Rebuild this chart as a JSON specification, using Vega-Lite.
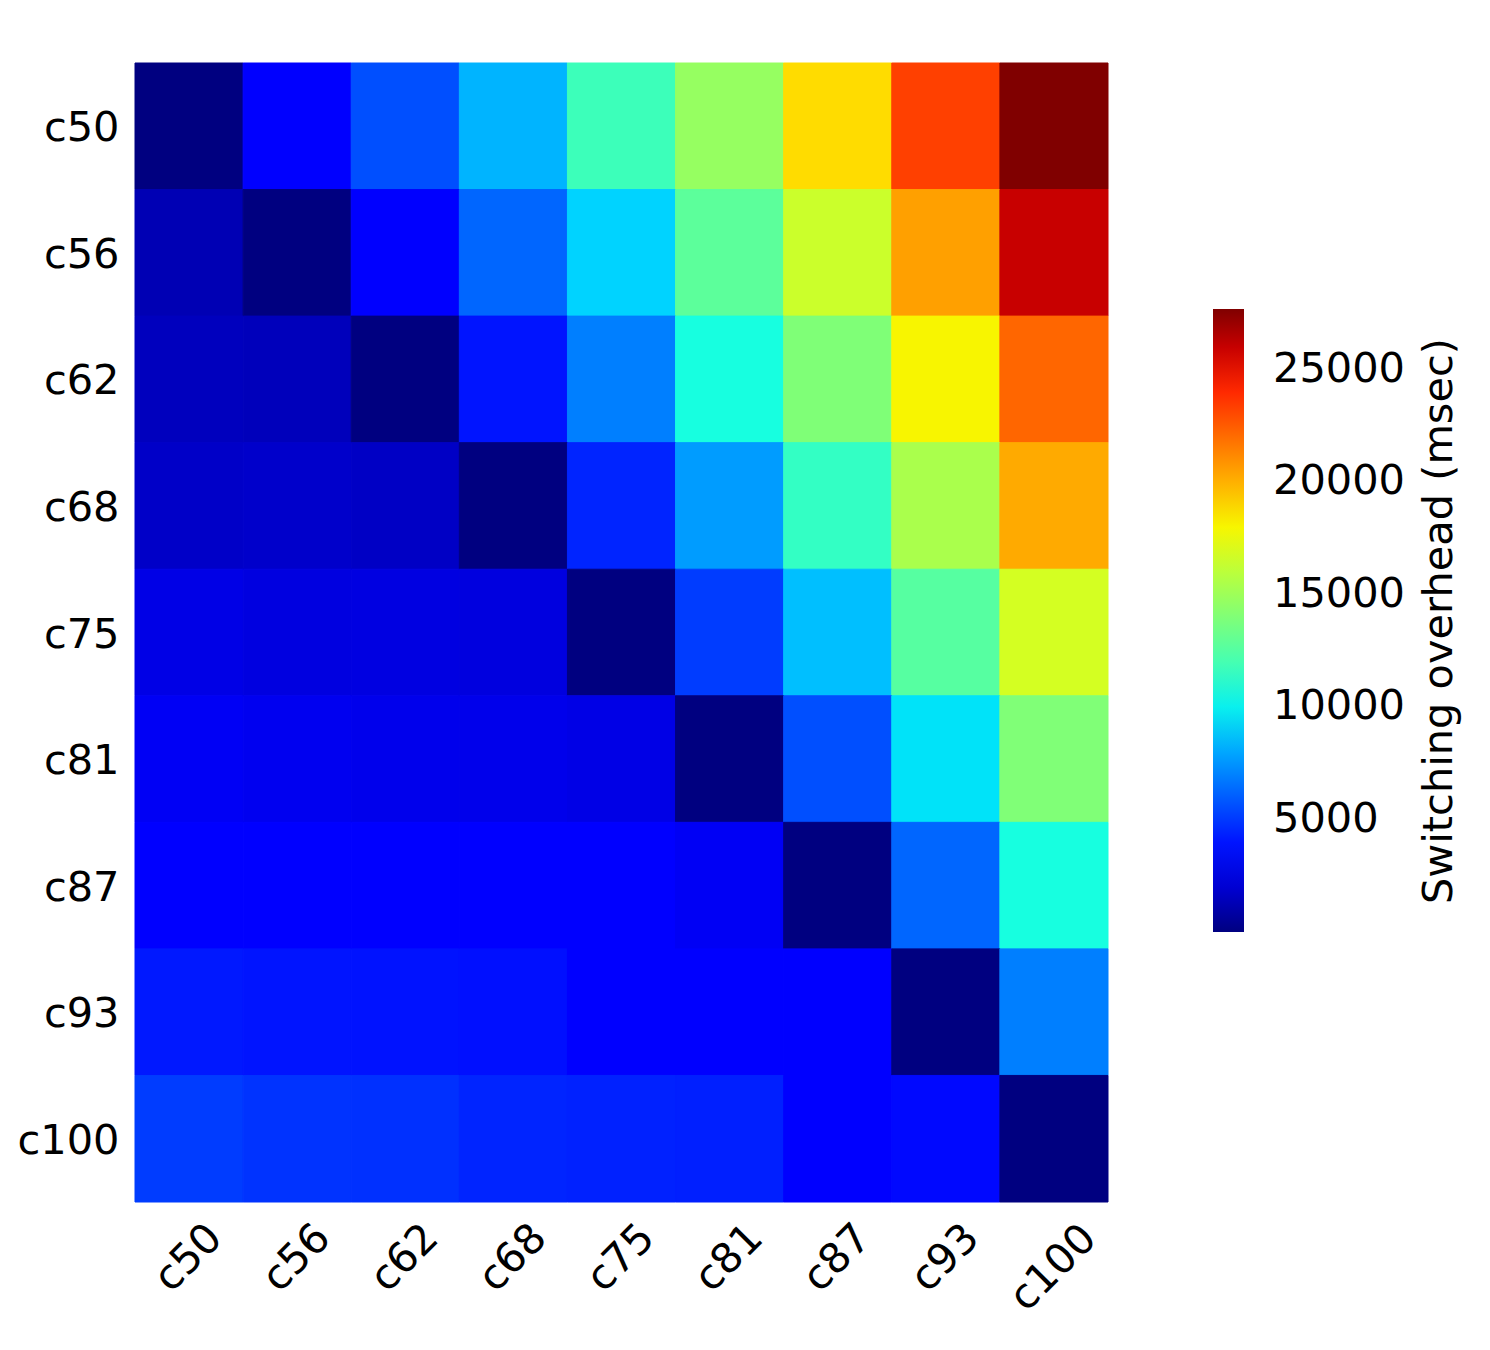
{
  "$schema": "https://vega.github.io/schema/vega-lite/v6.json",
  "autosize": {"type": "none"},
  "padding": {"left": 135, "top": 63, "right": 382, "bottom": 148},
  "width": 973,
  "height": 1139,
  "background": "white",
  "config": {
    "view": {"stroke": null},
    "font": "DejaVu Sans"
  },
  "data": {
    "values": [
      {"row": "c50", "col": "c50", "v": 0}, {"row": "c50", "col": "c56", "v": 3300}, {"row": "c50", "col": "c62", "v": 5610}, {"row": "c50", "col": "c68", "v": 8350}, {"row": "c50", "col": "c75", "v": 11720}, {"row": "c50", "col": "c81", "v": 14740}, {"row": "c50", "col": "c87", "v": 18750}, {"row": "c50", "col": "c93", "v": 23340}, {"row": "c50", "col": "c100", "v": 27700},
      {"row": "c56", "col": "c50", "v": 1250}, {"row": "c56", "col": "c56", "v": 0}, {"row": "c56", "col": "c62", "v": 3400}, {"row": "c56", "col": "c68", "v": 6230}, {"row": "c56", "col": "c75", "v": 9210}, {"row": "c56", "col": "c81", "v": 12790}, {"row": "c56", "col": "c87", "v": 16560}, {"row": "c56", "col": "c93", "v": 20520}, {"row": "c56", "col": "c100", "v": 25970},
      {"row": "c62", "col": "c50", "v": 1480}, {"row": "c62", "col": "c56", "v": 1420}, {"row": "c62", "col": "c62", "v": 0}, {"row": "c62", "col": "c68", "v": 4000}, {"row": "c62", "col": "c75", "v": 6925}, {"row": "c62", "col": "c81", "v": 10440}, {"row": "c62", "col": "c87", "v": 13990}, {"row": "c62", "col": "c93", "v": 18030}, {"row": "c62", "col": "c100", "v": 22220},
      {"row": "c68", "col": "c50", "v": 1730}, {"row": "c68", "col": "c56", "v": 1800}, {"row": "c68", "col": "c62", "v": 1650}, {"row": "c68", "col": "c68", "v": 0}, {"row": "c68", "col": "c75", "v": 4430}, {"row": "c68", "col": "c81", "v": 7700}, {"row": "c68", "col": "c87", "v": 11410}, {"row": "c68", "col": "c93", "v": 15430}, {"row": "c68", "col": "c100", "v": 20220},
      {"row": "c75", "col": "c50", "v": 2440}, {"row": "c75", "col": "c56", "v": 2300}, {"row": "c75", "col": "c62", "v": 2330}, {"row": "c75", "col": "c68", "v": 2280}, {"row": "c75", "col": "c75", "v": 0}, {"row": "c75", "col": "c81", "v": 5100}, {"row": "c75", "col": "c87", "v": 8670}, {"row": "c75", "col": "c93", "v": 12590}, {"row": "c75", "col": "c100", "v": 16850},
      {"row": "c81", "col": "c50", "v": 2800}, {"row": "c81", "col": "c56", "v": 2680}, {"row": "c81", "col": "c62", "v": 2600}, {"row": "c81", "col": "c68", "v": 2560}, {"row": "c81", "col": "c75", "v": 2440}, {"row": "c81", "col": "c81", "v": 0}, {"row": "c81", "col": "c87", "v": 5610}, {"row": "c81", "col": "c93", "v": 9640}, {"row": "c81", "col": "c100", "v": 14000},
      {"row": "c87", "col": "c50", "v": 3200}, {"row": "c87", "col": "c56", "v": 3200}, {"row": "c87", "col": "c62", "v": 3180}, {"row": "c87", "col": "c68", "v": 3100}, {"row": "c87", "col": "c75", "v": 3080}, {"row": "c87", "col": "c81", "v": 2800}, {"row": "c87", "col": "c87", "v": 0}, {"row": "c87", "col": "c93", "v": 6230}, {"row": "c87", "col": "c100", "v": 10440},
      {"row": "c93", "col": "c50", "v": 4110}, {"row": "c93", "col": "c56", "v": 4000}, {"row": "c93", "col": "c62", "v": 3950}, {"row": "c93", "col": "c68", "v": 3880}, {"row": "c93", "col": "c75", "v": 3400}, {"row": "c93", "col": "c81", "v": 3350}, {"row": "c93", "col": "c87", "v": 3300}, {"row": "c93", "col": "c93", "v": 0}, {"row": "c93", "col": "c100", "v": 6925},
      {"row": "c100", "col": "c50", "v": 5100}, {"row": "c100", "col": "c56", "v": 4850}, {"row": "c100", "col": "c62", "v": 4760}, {"row": "c100", "col": "c68", "v": 4430}, {"row": "c100", "col": "c75", "v": 4360}, {"row": "c100", "col": "c81", "v": 4310}, {"row": "c100", "col": "c87", "v": 3300}, {"row": "c100", "col": "c93", "v": 3680}, {"row": "c100", "col": "c100", "v": 0}
    ]
  },
  "mark": {"type": "rect", "strokeWidth": 1, "stroke": {"expr": "scale('color', datum.v)"}},
  "encoding": {
    "x": {
      "field": "col", "type": "nominal",
      "sort": ["c50", "c56", "c62", "c68", "c75", "c81", "c87", "c93", "c100"],
      "scale": {"paddingInner": 0, "paddingOuter": 0},
      "axis": {
        "title": null, "domain": false, "ticks": false,
        "labelAngle": -45, "labelAlign": "center", "labelBaseline": "middle",
        "labelPadding": {"condition": {"test": "datum.value === 'c100'", "value": 66}, "value": 56},
        "labelFont": "DejaVu Sans", "labelFontSize": 41.5, "labelColor": "#000000"
      }
    },
    "y": {
      "field": "row", "type": "nominal",
      "sort": ["c50", "c56", "c62", "c68", "c75", "c81", "c87", "c93", "c100"],
      "scale": {"paddingInner": 0, "paddingOuter": 0},
      "axis": {
        "title": null, "domain": false, "ticks": false,
        "labelPadding": 16, "labelOffset": 3,
        "labelFont": "DejaVu Sans", "labelFontSize": 41.5, "labelColor": "#000000"
      }
    },
    "color": {
      "field": "v", "type": "quantitative",
      "scale": {
        "type": "linear",
        "domain": [0, 3047, 3462.5, 9418, 9695, 10387.5, 17728, 18005, 18282, 24653, 25207, 27700],
        "range": ["#000080", "#0000ff", "#0000ff", "#00dbff", "#00e5f7", "#15ffe2", "#eeff08", "#f7f600", "#ffec00", "#ff1300", "#e80000", "#800000"],
        "interpolate": "rgb",
        "zero": false, "nice": false
      },
      "legend": {
        "title": "Switching overhead (msec)",
        "orient": "none",
        "legendX": 1078,
        "legendY": 246,
        "direction": "vertical",
        "gradientLength": 623,
        "gradientThickness": 31,
        "gradientStrokeWidth": 0,
        "values": [5000, 10000, 15000, 20000, 25000],
        "format": "d",
        "labelOffset": 29,
        "labelFont": "DejaVu Sans", "labelFontSize": 41.5, "labelColor": "#000000",
        "labelOverlap": false,
        "titleFont": "DejaVu Sans", "titleFontSize": 41.5, "titleFontWeight": "normal", "titleColor": "#000000",
        "titleOrient": "right",
        "titleAnchor": "middle",
        "titlePadding": 56,
        "titleLimit": 2000,
        "encode": {"title": {"update": {"angle": {"value": -90}}}}
      }
    }
  }
}
